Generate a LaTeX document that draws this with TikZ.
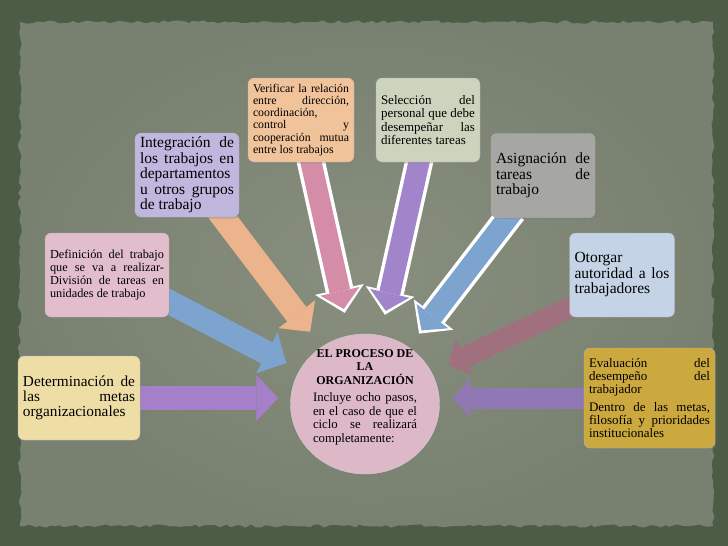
\documentclass[tikz,border=0pt]{standalone}
\usepackage{fontspec}
\setmainfont{Liberation Serif}
\usetikzlibrary{positioning,shapes.geometric,arrows.meta,shadows,decorations.pathmorphing}

\definecolor{marco}{RGB}{76,92,69}
\definecolor{papelc}{RGB}{136,143,127}
\definecolor{papelb}{RGB}{120,128,112}
\definecolor{fverif}{RGB}{240,195,155}
\definecolor{fselec}{RGB}{205,212,190}
\definecolor{finteg}{RGB}{192,183,222}
\definecolor{fasign}{RGB}{166,166,163}
\definecolor{fdefin}{RGB}{226,190,204}
\definecolor{fotorg}{RGB}{196,211,229}
\definecolor{fdeterm}{RGB}{238,222,166}
\definecolor{feval}{RGB}{204,169,62}
\definecolor{fproc}{RGB}{221,184,199}
\definecolor{arosa}{RGB}{213,140,167}
\definecolor{amorado}{RGB}{161,132,201}
\definecolor{aazul}{RGB}{125,163,207}
\definecolor{anaranja}{RGB}{236,180,141}
\definecolor{alila}{RGB}{166,127,201}
\definecolor{amalva}{RGB}{160,112,127}
\definecolor{aviol}{RGB}{143,120,179}

\newcommand{\tam}[2]{\fontsize{#1}{#2}\selectfont}

\pgfdeclarelayer{fondo}
\pgfdeclarelayer{flechas}
\pgfsetlayers{fondo,flechas,main}

\tikzset{paso/.style={rounded corners=6pt,fill=#1,draw=black!30,inner xsep=5pt,inner ysep=3pt,
    minimum height=84pt,align=justify,drop shadow={opacity=0.35,shadow xshift=1pt,shadow yshift=-1.5pt}},
  grande/.style={draw=#1,line width=24pt,-{Triangle[length=22pt,width=46pt,line width=0pt]}},
  mediana/.style={draw=#1,line width=21pt,-{Triangle[length=18pt,width=40pt,line width=0pt]}},
  borde/.style={draw=white,line width=28pt,-{Triangle[length=24pt,width=50pt,line width=0pt]}},
}

\begin{document}
\begin{tikzpicture}[x=1pt,y=-1pt]
\useasboundingbox (0,0) rectangle (728,546);
\begin{pgfonlayer}{fondo}
\fill[marco] (0,0) rectangle (728,546);
\pgfmathsetseed{7}
\shade[inner color=papelc,outer color=papelb,decorate,decoration={random steps,segment length=5pt,amplitude=1.6pt}]
  (20,22) rectangle (713,526);
\end{pgfonlayer}

% cajas de los pasos
\node[paso=fverif,text width=96pt,font=\tam{11.8}{12.2}] (verif) at (301,120)
  {Verificar la relación\linebreak entre dirección,\linebreak coordinación,\newline control y\linebreak cooperación mutua\linebreak entre los trabajos};
\node[paso=fselec,text width=94pt,font=\tam{13}{13.4}] (selec) at (428,120)
  {Selección del\linebreak personal que debe\linebreak desempeñar las\linebreak diferentes tareas};
\node[paso=finteg,text width=94pt,font=\tam{15.5}{15.4}] (integ) at (187,175)
  {Integración de\linebreak los trabajos en\linebreak departamentos\newline u otros grupos\linebreak de trabajo};
\node[paso=fasign,text width=94pt,font=\tam{15.5}{15.7}] (asign) at (543,175.5)
  {Asignación de\linebreak tareas de\linebreak trabajo};
\node[paso=fdefin,text width=114pt,font=\tam{12.3}{13}] (defin) at (107,275)
  {Definición del trabajo\linebreak que se va a realizar-\linebreak División de tareas en\linebreak unidades de trabajo};
\node[paso=fotorg,text width=95pt,font=\tam{15.5}{15.5}] (otorg) at (622,275)
  {Otorgar\newline autoridad a los\linebreak trabajadores};
\node[paso=fdeterm,text width=112pt,font=\tam{15.3}{15}] (determ) at (79,398)
  {Determinación de\linebreak las metas\linebreak organizacionales};
\node[paso=feval,text width=121pt,minimum height=100pt,font=\tam{13}{13}] (eval) at (649.5,398)
  {Evaluación del\linebreak desempeño del\linebreak trabajador\par\vspace{5pt}
   Dentro de las metas,\linebreak filosofía y prioridades\linebreak institucionales};

% centro
\node[ellipse,fill=fproc,draw=black!20,minimum width=149pt,minimum height=140pt,inner xsep=0pt,inner ysep=-8pt,
  text width=104pt,align=justify,drop shadow={opacity=0.3,shadow xshift=1pt,shadow yshift=-1.5pt}] (proc) at (365,404)
  {{\centering\tam{12}{13.5}\bfseries EL PROCESO DE\\ LA\\ ORGANIZACIÓN\par}\vspace{4pt}
   {\tam{12.8}{13.5}Incluye ocho pasos,\linebreak en el caso de que el\linebreak ciclo se realizará\linebreak completamente:\rule[-16pt]{0pt}{16pt}\par}};

\begin{pgfonlayer}{flechas}
\draw[borde,shorten <=-8pt,shorten >=23pt] ([xshift=10pt]verif.south) -- (proc);
\draw[mediana=arosa,shorten <=-8pt,shorten >=27pt] ([xshift=10pt]verif.south) -- (proc);
\draw[borde,shorten <=-8pt,shorten >=21pt] ([xshift=-9pt]selec.south) -- (proc);
\draw[mediana=amorado,shorten <=-8pt,shorten >=25pt] ([xshift=-9pt]selec.south) -- (proc);
\draw[borde,shorten <=-8pt,shorten >=17pt] ([xshift=-35pt]asign.south) -- (proc);
\draw[mediana=aazul,shorten <=-8pt,shorten >=21pt] ([xshift=-35pt]asign.south) -- (proc);
\draw[grande=anaranja,shorten <=-8pt,shorten >=19pt] ([xshift=36pt]integ.south) -- (proc);
\draw[grande=aazul,shorten <=-8pt,shorten >=15pt] ([yshift=-27pt]defin.east) -- (proc);
\draw[mediana=amalva,shorten <=-8pt,shorten >=18pt] ([yshift=-33pt]otorg.west) -- (proc);
\draw[grande=alila,shorten <=-8pt,shorten >=12pt] (determ.east) -- (determ.east -| proc.west);
\draw[mediana=aviol,shorten <=-8pt,shorten >=13pt] (eval.west) -- (eval.west -| proc.east);
\end{pgfonlayer}
\end{tikzpicture}
\end{document}
